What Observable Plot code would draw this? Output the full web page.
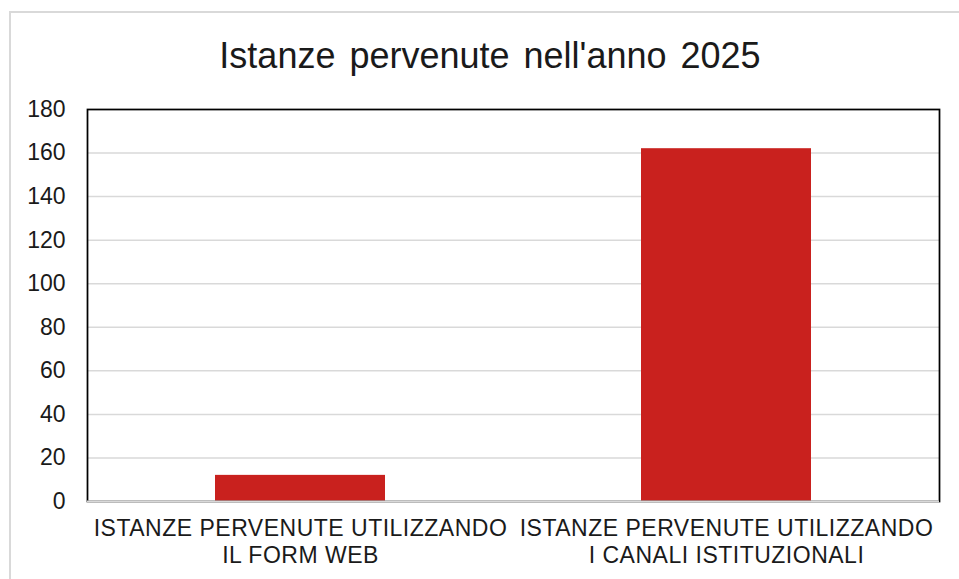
<!DOCTYPE html>
<html>
<head>
<meta charset="utf-8">
<script src="https://cdn.jsdelivr.net/npm/d3@7"></script>
<script src="https://cdn.jsdelivr.net/npm/@observablehq/plot@0.6"></script>
<style>
  html, body { margin: 0; padding: 0; background: #fff; }
  #wrap { position: relative; width: 959px; height: 579px; overflow: hidden; font-family: "Liberation Sans", Arial, sans-serif; }
  #outer { position: absolute; left: 9px; top: 11px; width: 1000px; height: 1000px; border-left: 2px solid #d9d9d9; border-top: 2px solid #d9d9d9; box-sizing: border-box; }
  #title { position: absolute; left: 0; top: 34px; width: 980px; text-align: center; font-size: 36px; line-height: 44px; color: #1a1a1a; word-spacing: 4px; }
  #chart { position: absolute; left: 0; top: 0; }
  #chart g[aria-label="x-axis tick label"] text { letter-spacing: 0.5px; }
</style>
</head>
<body>
<div id="wrap">
  <div id="outer"></div>
  <div id="chart"></div>
  <div id="title">Istanze pervenute nell'anno 2025</div>
</div>
<script>
const categories = [
  "ISTANZE PERVENUTE UTILIZZANDO\nIL FORM WEB",
  "ISTANZE PERVENUTE UTILIZZANDO\nI CANALI ISTITUZIONALI"
];
const values = [12, 162];
const yTicks = [0, 20, 40, 60, 80, 100, 120, 140, 160, 180];
const gridTicks = [20, 40, 60, 80, 100, 120, 140, 160];

const data = categories.map((c, i) => ({category: c, value: values[i]}));

const chart = Plot.plot({
  width: 959,
  height: 579,
  marginTop: 109,
  marginBottom: 78,
  marginLeft: 87,
  marginRight: 20,
  style: {fontFamily: "'Liberation Sans', Arial, sans-serif", background: "transparent", color: "#1a1a1a"},
  x: {domain: categories, paddingInner: 0.6, paddingOuter: 0.3, label: null},
  y: {domain: [0, 180], label: null},
  marks: [
    Plot.ruleY(gridTicks, {stroke: "#d9d9d9", strokeWidth: 1.5}),
    Plot.barY(data, {x: "category", y: "value", fill: "#c9211e"}),
    Plot.frame({stroke: "#000", strokeWidth: 1.75}),
    Plot.ruleY([0], {stroke: "#d9d9d9", strokeWidth: 2}),
    Plot.axisY(yTicks, {tickSize: 0, tickPadding: 22, fontSize: 23, label: null, fill: "#1a1a1a"}),
    Plot.axisX({tickSize: 0, tickPadding: 15, fontSize: 23, lineHeight: 1.18, label: null, fill: "#1a1a1a"})
  ]
});
document.getElementById("chart").appendChild(chart);
</script>
</body>
</html>
